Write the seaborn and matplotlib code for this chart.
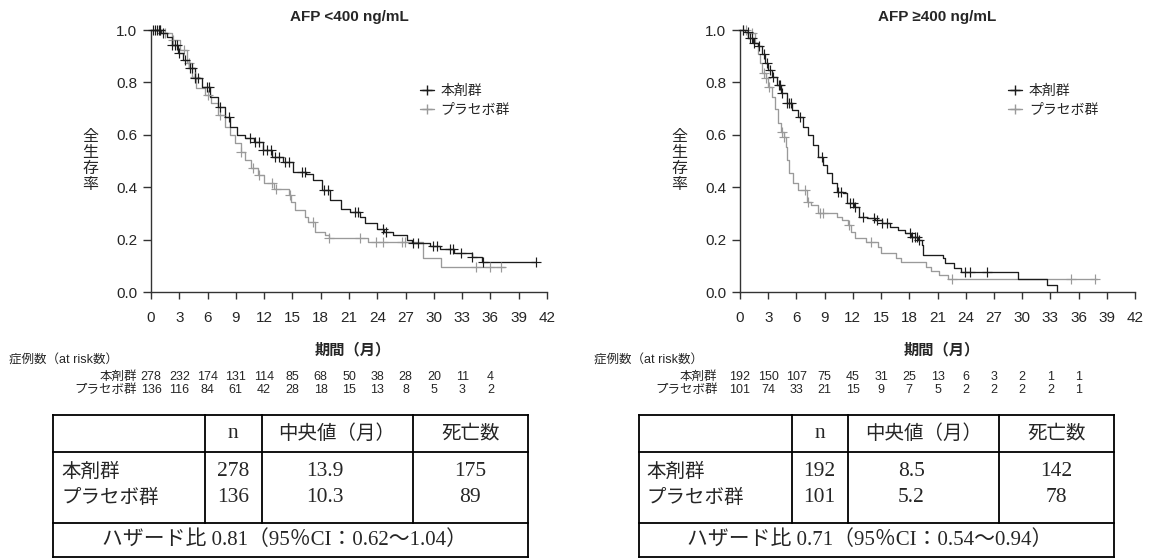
import numpy as np
import pandas as pd
import matplotlib
matplotlib.use("Agg")
import matplotlib.pyplot as plt
from matplotlib import transforms
from matplotlib.lines import Line2D
import seaborn as sns

# ---------------- data ----------------
months_ticks = list(range(0, 43, 3))
y_ticks = [0.0, 0.2, 0.4, 0.6, 0.8, 1.0]
group_labels = ["本剤群", "プラセボ群"]
ylabel_chars = ["全", "生", "存", "率"]

# AFP <400 : drug arm (step knots)
l_act_t = [0, 1.1, 1.7, 2.2, 2.9, 3.4, 4.0, 4.7, 5.4, 6.3, 7.1, 7.9, 8.4, 9.1, 10.0, 10.9, 11.9,
           12.8, 14.0, 15.1, 16.4, 17.2, 18.1, 19.0, 20.2, 21.1, 22.2, 22.7, 24.0, 24.7, 25.7, 27.1,
           27.7, 29.6, 30.7, 32.1, 34.0, 35.1, 40.8]
l_act_s = [1.0, 0.99, 0.975, 0.943, 0.911, 0.885, 0.854, 0.816, 0.784, 0.745, 0.707, 0.669, 0.631,
           0.599, 0.587, 0.574, 0.542, 0.516, 0.497, 0.458, 0.45, 0.427, 0.389, 0.351, 0.316, 0.306,
           0.287, 0.262, 0.239, 0.23, 0.218, 0.198, 0.186, 0.176, 0.163, 0.15, 0.135, 0.116, 0.116]
l_act_cens = [0.2, 0.4, 0.6, 0.8, 1.0, 1.3, 2.2, 2.5, 2.8, 3.0, 3.6, 4.1, 4.4, 4.7, 5.0, 5.9, 6.2,
              7.3, 8.3, 10.5, 11.0, 11.5, 11.9, 12.3, 12.7, 13.2, 13.6, 14.2, 14.6, 16.0, 16.3, 18.3,
              18.8, 21.6, 22.0, 24.6, 24.9, 27.8, 28.3, 29.9, 30.3, 31.7, 32.0, 32.9, 34.0, 35.2, 40.8]

# AFP <400 : placebo arm
l_pla_t = [0, 1.3, 2.2, 3.1, 3.8, 4.3, 4.8, 5.7, 6.4, 7.1, 7.85, 8.4, 8.95, 9.5, 10.0, 10.6, 11.3,
           12.0, 13.0, 14.6, 14.9, 15.3, 16.3, 16.7, 17.4, 18.5, 18.9, 23.0, 28.8, 30.8, 37.5]
l_pla_s = [1.0, 0.99, 0.962, 0.924, 0.873, 0.822, 0.778, 0.752, 0.72, 0.676, 0.631, 0.599, 0.568,
           0.536, 0.504, 0.472, 0.447, 0.415, 0.393, 0.37, 0.345, 0.313, 0.287, 0.268, 0.23, 0.218,
           0.205, 0.19, 0.129, 0.097, 0.097]
l_pla_cens = [1.0, 1.5, 2.3, 3.5, 4.0, 4.7, 6.0, 7.3, 9.5, 10.8, 11.5, 12.8, 13.3, 14.7, 17.2,
              18.9, 22.2, 23.9, 24.6, 26.6, 26.9, 34.5, 36.0, 37.1]

# AFP >=400 : drug arm
r_act_t = [0, 0.5, 0.9, 1.4, 1.9, 2.3, 2.65, 3.0, 3.35, 3.9, 4.4, 4.95, 5.5, 6.2, 6.7, 7.2, 7.8,
           8.3, 8.85, 9.2, 9.75, 10.3, 11.0, 11.35, 12.1, 12.6, 13.5, 14.4, 15.1, 15.9, 16.8, 17.5,
           18.2, 18.9, 19.3, 19.45, 21.6, 21.8, 22.8, 23.5, 29.6, 32.6, 33.75]
r_act_s = [1.0, 0.993, 0.97, 0.95, 0.94, 0.91, 0.873, 0.847, 0.822, 0.79, 0.758, 0.72, 0.694,
           0.669, 0.631, 0.599, 0.561, 0.516, 0.485, 0.453, 0.415, 0.383, 0.377, 0.338, 0.326,
           0.288, 0.281, 0.275, 0.262, 0.249, 0.237, 0.224, 0.211, 0.198, 0.179, 0.141, 0.129,
           0.11, 0.09, 0.078, 0.05, 0.025, 0.0]
r_act_cens = [0.3, 0.8, 1.1, 1.3, 1.5, 2.0, 2.6, 2.9, 3.2, 3.5, 4.1, 4.3, 4.5, 5.0, 5.2, 5.4, 6.4,
              8.7, 10.4, 10.7, 11.7, 12.0, 12.2, 13.1, 14.3, 14.6, 15.1, 15.6, 18.1, 18.3, 18.6,
              18.8, 19.0, 23.9, 24.5, 26.3]

# AFP >=400 : placebo arm
r_pla_t = [0, 0.7, 1.6, 1.95, 2.1, 2.3, 2.8, 3.0, 3.35, 3.7, 4.0, 4.4, 4.7, 4.9, 5.05, 5.2, 5.6,
           6.2, 7.1, 7.6, 8.3, 10.3, 10.8, 11.5, 11.85, 12.2, 13.4, 14.7, 15.0, 16.6, 17.1, 19.8,
           20.3, 21.2, 22.1, 38.0]
r_pla_s = [1.0, 0.99, 0.95, 0.91, 0.873, 0.835, 0.816, 0.784, 0.745, 0.70, 0.644, 0.612, 0.593,
           0.555, 0.504, 0.453, 0.415, 0.39, 0.345, 0.332, 0.30, 0.288, 0.275, 0.256, 0.23, 0.205,
           0.192, 0.173, 0.148, 0.129, 0.116, 0.097, 0.081, 0.065, 0.05, 0.05]
r_pla_cens = [0.3, 0.6, 1.3, 2.5, 2.8, 3.1, 4.5, 4.7, 6.9, 7.2, 8.5, 8.8, 11.6, 13.9, 22.5,
              35.2, 37.7]

# numbers at risk
l_risk_act = [278, 232, 174, 131, 114, 85, 68, 50, 38, 28, 20, 11, 4]
l_risk_pla = [136, 116, 84, 61, 42, 28, 18, 15, 13, 8, 5, 3, 2]
r_risk_act = [192, 150, 107, 75, 45, 31, 25, 13, 6, 3, 2, 1, 1]
r_risk_pla = [101, 74, 33, 21, 15, 9, 7, 5, 2, 2, 2, 2, 1]
risk_months = list(range(0, 37, 3))

# summary tables
l_n = [278, 136]
l_median = ["13.9", "10.3"]
l_deaths = [175, 89]
l_hr = "ハザード比 0.81（95％CI：0.62〜1.04）"
r_n = [192, 101]
r_median = ["8.5", "5.2"]
r_deaths = [142, 78]
r_hr = "ハザード比 0.71（95％CI：0.54〜0.94）"

titles = ["AFP <400 ng/mL", "AFP ≥400 ng/mL"]

# ---------------- style ----------------
sns.set_style("ticks")
plt.rcParams["font.family"] = ["Liberation Sans", "Noto Sans CJK JP"]
SERIF = ["Liberation Serif", "Noto Sans CJK JP"]
C_ACT = "#1c1c1c"
C_PLA = "#9a9a9a"
AX_C = "#333333"

W, H = 1152, 559
fig = plt.figure(figsize=(W / 100, H / 100), dpi=100)

ov = fig.add_axes([0, 0, 1, 1])
ov.set_xlim(0, W)
ov.set_ylim(H, 0)
ov.axis("off")


def px_rect(x0, y0, x1, y1):
    return [x0 / W, 1 - y1 / H, (x1 - x0) / W, (y1 - y0) / H]


def draw_curve(ax, t, s, cens, color):
    df = pd.DataFrame({"t": t, "s": s})
    sns.lineplot(data=df, x="t", y="s", drawstyle="steps-post", color=color, lw=0.95,
                 ax=ax, estimator=None, legend=False, clip_on=False)
    idx = np.searchsorted(np.asarray(t), np.asarray(cens), side="right") - 1
    cy = np.asarray(s)[idx]
    sns.scatterplot(x=cens, y=cy, marker="+", s=50, color=color, linewidth=0.85, ax=ax,
                    legend=False, zorder=3, clip_on=False)


panels = [
    dict(rect=(151, 30, 547, 292), title=titles[0],
         act=(l_act_t, l_act_s, l_act_cens), pla=(l_pla_t, l_pla_s, l_pla_cens),
         risk=(l_risk_act, l_risk_pla), risk_hdr_x=9, risk_lbl_m=-1.5,
         table=(53, 205, 261.5, 412.5, 528), n=l_n, med=l_median, dth=l_deaths, hr=l_hr),
    dict(rect=(740, 30, 1135, 292), title=titles[1],
         act=(r_act_t, r_act_s, r_act_cens), pla=(r_pla_t, r_pla_s, r_pla_cens),
         risk=(r_risk_act, r_risk_pla), risk_hdr_x=594, risk_lbl_m=-2.4,
         table=(638.6, 791.5, 847.8, 998.8, 1113.7), n=r_n, med=r_median, dth=r_deaths, hr=r_hr),
]

for p in panels:
    x0, y0, x1, y1 = p["rect"]
    ax = fig.add_axes(px_rect(*p["rect"]))
    draw_curve(ax, *p["pla"], C_PLA)
    draw_curve(ax, *p["act"], C_ACT)
    ax.set_xlim(0, 42)
    ax.set_ylim(0, 1.0)
    ax.set_xticks(months_ticks)
    ax.set_xticklabels([str(m) for m in months_ticks], fontsize=11)
    ax.set_yticks(y_ticks)
    ax.set_yticklabels([f"{v:.1f}" for v in y_ticks], fontsize=11)
    ax.tick_params(axis="x", length=5, width=1, color=AX_C, pad=9)
    ax.tick_params(axis="y", length=6, width=1, color=AX_C, pad=4)
    for side in ("top", "right"):
        ax.spines[side].set_visible(False)
    for side in ("left", "bottom"):
        ax.spines[side].set_color(AX_C)
        ax.spines[side].set_linewidth(1.0)
    ax.set_xlabel("")
    ax.set_ylabel("")

    handles = [Line2D([], [], color=C_ACT, marker="+", lw=1.0, markersize=7),
               Line2D([], [], color=C_PLA, marker="+", lw=1.0, markersize=7)]
    ax.legend(handles, group_labels, loc="upper left", bbox_to_anchor=(0.665, 0.815),
              frameon=False, handlelength=1.0, handletextpad=0.5, fontsize=10,
              labelspacing=0.35, borderaxespad=0)

    cx = (x0 + x1) / 2
    ov.text(cx, 17, p["title"], ha="center", va="center", fontsize=11, fontweight="bold")
    for i, ch in enumerate(ylabel_chars):
        ov.text(x0 - 61, 136 + i * 16.3, ch, ha="center", va="center", fontsize=11.5)
    ov.text(cx + 4, 350, "期間（月）", ha="center", va="center", fontsize=11, fontweight="bold")

    # at-risk
    bt = transforms.blended_transform_factory(ax.transData, ov.transData)
    ov.text(p["risk_hdr_x"], 361, "症例数（at risk数）", ha="left", va="center", fontsize=9)
    for row_y, lbl, vals in zip((377, 390), group_labels, p["risk"]):
        ax.text(p["risk_lbl_m"], row_y, lbl, transform=bt, ha="right", va="center",
                fontsize=9, clip_on=False)
        for m, v in zip(risk_months, vals):
            ax.text(m, row_y, str(v), transform=bt, ha="center", va="center", fontsize=9,
                    clip_on=False)

    # summary table
    tl, c1, c2, c3, tr = p["table"]
    top, hdr, mid, bot = 415, 452, 523, 557
    lk = dict(color="black", lw=1.3, solid_capstyle="projecting")
    for yy in (top, hdr, mid, bot):
        ov.plot([tl, tr], [yy, yy], **lk)
    for xx in (tl, tr):
        ov.plot([xx, xx], [top, bot], **lk)
    for xx in (c1, c2, c3):
        ov.plot([xx, xx], [top, mid], **lk)
    fs = 14
    fsn = 15.5
    ov.text((c1 + c2) / 2, 433, "n", ha="center", va="center", fontsize=fsn, family=SERIF)
    ov.text((c2 + c3) / 2, 434, "中央値（月）", ha="center", va="center", fontsize=fs, family=SERIF)
    ov.text((c3 + tr) / 2, 434, "死亡数", ha="center", va="center", fontsize=fs, family=SERIF)
    for ry, lbl, n, md, dt in zip((472, 498), group_labels, p["n"], p["med"], p["dth"]):
        ov.text(tl + 8, ry, lbl, ha="left", va="center", fontsize=fs, family=SERIF)
        ov.text((c1 + c2) / 2, ry, str(n), ha="center", va="center", fontsize=fsn, family=SERIF)
        ov.text((c2 + c3) / 2 - 12, ry, md, ha="center", va="center", fontsize=fsn, family=SERIF)
        ov.text((c3 + tr) / 2, ry, str(dt), ha="center", va="center", fontsize=fsn, family=SERIF)
    ov.text((tl + tr) / 2 - 6, 540, p["hr"], ha="center", va="center", fontsize=15, family=SERIF)

fig.savefig("out.png", dpi=100)
